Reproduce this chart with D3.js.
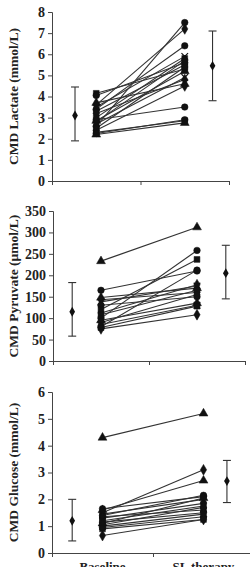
<!DOCTYPE html>
<html>
<head>
<meta charset="utf-8">
<script src="https://cdn.jsdelivr.net/npm/d3@7"></script>
<style>
  body { margin: 0; background: #fff; }
  svg text { font-family: "Liberation Serif", "Times New Roman", serif; font-weight: bold; fill: #222; }
</style>
</head>
<body>
<div id="chart"></div>
<script>
// per-patient values, same order in baseline and SL therapy arrays
var lactateBase = [4.15, 4.05, 3.7, 3.6, 3.5, 3.4, 3.3, 3.2, 3.0, 2.9, 2.85, 2.8, 2.7, 2.6, 2.5, 2.4, 2.3, 2.25, 2.2];
var lactateSL   = [5.3, 5.6, 4.6, 7.2, 5.9, 6.4, 5.5, 4.8, 5.8, 3.5, 5.2, 5.7, 4.9, 7.5, 5.4, 4.5, 2.85, 2.9, 2.75];
var lactateMean = [3.1, 5.45];
var lactateErr  = [[1.9, 4.45], [3.8, 7.1]];

var pyruvateBase = [233, 165, 148, 143, 138, 130, 120, 112, 108, 100, 95, 90, 85, 80, 78, 75];
var pyruvateSL   = [312, 210, 170, 160, 175, 150, 237, 178, 165, 258, 135, 155, 130, 212, 128, 108];
var pyruvateMean = [115, 205];
var pyruvateErr  = [[58, 183], [145, 270]];

var glucoseBase = [4.3, 1.65, 1.6, 1.5, 1.45, 1.4, 1.35, 1.3, 1.2, 1.15, 1.1, 1.05, 1.0, 0.95, 0.9, 0.65];
var glucoseSL   = [5.2, 2.1, 2.7, 3.1, 2.0, 2.15, 1.6, 1.85, 1.75, 1.5, 2.05, 1.7, 1.45, 1.35, 1.25, 1.25];
var glucoseMean = [1.2, 2.68];
var glucoseErr  = [[0.45, 2.0], [1.88, 3.45]];

var groups = ["Baseline", "SL therapy"];
var markerCycle = ["square", "circle", "triangle", "diamond", "cross", "circle", "square", "diamond"];

var svg = d3.select("#chart").append("svg")
    .attr("width", 250)
    .attr("height", 567);

var symbolTypes = {
    square: d3.symbolSquare,
    circle: d3.symbolCircle,
    triangle: d3.symbolTriangle,
    diamond: d3.symbolDiamond
};

function drawPanel(cfg) {
    var x = d3.scaleLinear().domain([0, 1]).range([cfg.left, cfg.right]);
    var y = d3.scaleLinear().domain([0, cfg.max]).range([cfg.bottom, cfg.top]);
    var g = svg.append("g");

    // y axis
    var yAxis = d3.axisLeft(y).tickValues(d3.range(0, cfg.max + cfg.step / 2, cfg.step))
        .tickFormat(d3.format("d"))
        .tickSize(4).tickPadding(3);
    var ya = g.append("g").attr("transform", "translate(" + cfg.left + ",0)").call(yAxis);
    ya.selectAll("text").style("font-size", "14px");
    ya.selectAll("line, path").attr("stroke", "#444");

    // x axis with ticks at start, middle, end
    var xAxis = d3.axisBottom(x).tickValues([0, 0.5, 1]).tickSize(4).tickFormat("");
    var xa = g.append("g").attr("transform", "translate(0," + cfg.bottom + ")").call(xAxis);
    xa.selectAll("line, path").attr("stroke", "#444");

    var pairs = cfg.base.map(function(b, i) { return { b: b, s: cfg.sl[i], m: markerCycle[i % markerCycle.length] }; });
    if (cfg.first) pairs[0].m = "triangle";

    g.selectAll(".pair").data(pairs).enter().append("line")
        .attr("x1", x(0.25)).attr("x2", x(0.75))
        .attr("y1", function(d) { return y(d.b); })
        .attr("y2", function(d) { return y(d.s); })
        .attr("stroke", "#333").attr("stroke-width", 1.1);

    function markers(key, xpos) {
        g.selectAll(".m" + key).data(pairs).enter().append("path")
            .attr("transform", function(d) { return "translate(" + x(xpos) + "," + y(d[key]) + ")"; })
            .attr("d", function(d) {
                if (d.m === "cross") return d3.symbol().type(d3.symbolX).size(30)();
                return d3.symbol().type(symbolTypes[d.m]).size(34)();
            })
            .attr("fill", function(d) { return d.m === "cross" ? "none" : "#111"; })
            .attr("stroke", "#111")
            .attr("stroke-width", function(d) { return d.m === "cross" ? 1.2 : 0.5; });
    }
    markers("b", 0.25);
    markers("s", 0.75);

    // mean +/- SD bars
    var ms = cfg.mean.map(function(m, i) { return { m: m, lo: cfg.err[i][0], hi: cfg.err[i][1], xp: cfg.errX[i] }; });
    var eb = g.selectAll(".eb").data(ms).enter().append("g");
    eb.append("line").attr("x1", function(d) { return x(d.xp); }).attr("x2", function(d) { return x(d.xp); })
        .attr("y1", function(d) { return y(d.lo); }).attr("y2", function(d) { return y(d.hi); })
        .attr("stroke", "#333").attr("stroke-width", 1.1);
    ["lo", "hi"].forEach(function(k) {
        eb.append("line").attr("x1", function(d) { return x(d.xp) - 4; }).attr("x2", function(d) { return x(d.xp) + 4; })
            .attr("y1", function(d) { return y(d[k]); }).attr("y2", function(d) { return y(d[k]); })
            .attr("stroke", "#333").attr("stroke-width", 1.1);
    });
    eb.append("path")
        .attr("transform", function(d) { return "translate(" + x(d.xp) + "," + y(d.m) + ")"; })
        .attr("d", d3.symbol().type(d3.symbolDiamond).size(28)())
        .attr("fill", "#111");

    // y label
    g.append("text")
        .attr("transform", "translate(" + cfg.labelX + "," + (cfg.top + cfg.bottom) / 2 + ") rotate(-90)")
        .attr("text-anchor", "middle")
        .style("font-size", "13.5px")
        .text(cfg.label);

    if (cfg.showGroups) {
        g.selectAll(".grp").data(groups).enter().append("text")
            .attr("x", function(d, i) { return x(i ? 0.75 : 0.25); })
            .attr("y", cfg.bottom + 18)
            .attr("text-anchor", "middle")
            .style("font-size", "13px")
            .text(function(d) { return d; });
    }
}

drawPanel({ base: lactateBase, sl: lactateSL, mean: lactateMean, err: lactateErr, max: 8, step: 1,
    left: 52, right: 229, top: 12, bottom: 181, errX: [0.13, 0.907], labelX: 18,
    label: "CMD Lactate (mmol/L)" });

drawPanel({ base: pyruvateBase, sl: pyruvateSL, mean: pyruvateMean, err: pyruvateErr, max: 350, step: 50,
    left: 53, right: 245, top: 211, bottom: 361, errX: [0.1, 0.9], labelX: 18, first: true,
    label: "CMD Pyruvate (\u00b5mol/L)" });

drawPanel({ base: glucoseBase, sl: glucoseSL, mean: glucoseMean, err: glucoseErr, max: 6, step: 1,
    left: 52, right: 254, top: 392, bottom: 553, errX: [0.1, 0.866], labelX: 18, first: true,
    label: "CMD Glucose (mmol/L)", showGroups: true });
</script>
</body>
</html>
